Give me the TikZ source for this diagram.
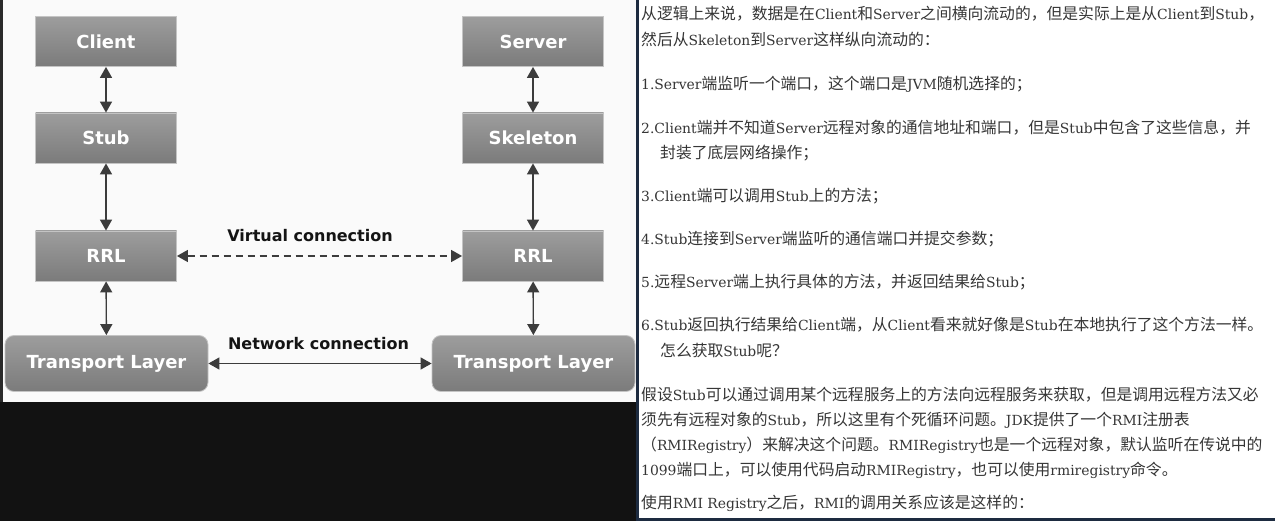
\documentclass[tikz,border=0pt]{standalone}
\usepackage{fontspec}
\usepackage{tikz}
\usetikzlibrary{arrows.meta}
\setmainfont{DejaVu Sans}
\newfontfamily\cjkfont{Noto Sans CJK SC}
\newfontfamily\latinfont[Scale=0.88]{DejaVu Serif}
\newcommand{\eng}[1]{{\latinfont #1}}
\definecolor{pagedark}{HTML}{121212}
\definecolor{edgedark}{HTML}{2A2A2A}
\definecolor{navy}{HTML}{1D2B40}
\definecolor{panelbg}{HTML}{FAFAFA}
\definecolor{boxtop}{HTML}{9D9D9D}
\definecolor{boxbot}{HTML}{7B7B7B}
\definecolor{boxedge}{HTML}{C4C4C4}
\definecolor{arrowgray}{HTML}{3C3C3C}
\definecolor{labelblack}{HTML}{141414}
\definecolor{textgray}{HTML}{363636}

\begin{document}
\begin{tikzpicture}[x=1pt, y=-1pt,
    layer/.style={draw=boxedge, line width=0.8pt, top color=boxtop, bottom color=boxbot,
      text=white, font=\fontsize{18}{18}\selectfont\bfseries,
      minimum width=141pt, minimum height=50pt, inner sep=0pt},
    transport/.style={layer, rounded corners=9pt, minimum width=203pt, minimum height=56pt},
    link/.style={draw=arrowgray, line width=1.4pt, <->, >={Triangle[length=11pt,width=12pt]}},
    conn/.style={font=\fontsize{16}{16}\selectfont\bfseries, text=labelblack, inner sep=0pt},
    para/.style={anchor=base west, inner sep=0pt, text=textgray,
      font=\cjkfont\fontsize{15.8}{15.8}\selectfont}]
    \useasboundingbox (0,0) rectangle (1275,521);

    % Background
    \fill[pagedark] (0,0) rectangle (1275,521);
    \fill[edgedark] (0,0) rectangle (3,402);
    \fill[panelbg] (3,0) rectangle (636,402);
    \fill[navy] (636,0) rectangle (1275,521);
    \fill[white] (639,0) rectangle (1275,518);

    % Client side
    \node[layer] (client) at (106,41.5) {Client};
    \node[layer] (stub) at (106,138) {Stub};
    \node[layer] (rrlL) at (106,256) {RRL};
    \node[transport] (tlL) at (106.5,363.5) {Transport Layer};

    % Server side
    \node[layer] (server) at (533,41.5) {Server};
    \node[layer] (skeleton) at (533,138) {Skeleton};
    \node[layer] (rrlR) at (533,256) {RRL};
    \node[transport] (tlR) at (533.5,363.5) {Transport Layer};

    % Vertical links
    \draw[link] (client) -- (stub);
    \draw[link] (stub) -- (rrlL);
    \draw[link] (rrlL) -- (tlL);
    \draw[link] (server) -- (skeleton);
    \draw[link] (skeleton) -- (rrlR);
    \draw[link] (rrlR) -- (tlR);

    % Connections
    \draw[link, dash pattern=on 7pt off 5pt, line width=1.3pt] (rrlL) -- (rrlR);
    \draw[link] (tlL) -- (tlR);
    \node[conn] (virtual) at (310,236) {Virtual connection};
    \node[conn] (network) at (318.5,344) {Network connection};

    % Notes on the right
    \node[para] (t1) at (641,20) {从逻辑上来说，数据是在\eng{Client}和\eng{Server}之间横向流动的，但是实际上是从\eng{Client}到\eng{Stub}，};
    \node[para] (t2) at (641,46) {然后从\eng{Skeleton}到\eng{Server}这样纵向流动的：};
    \node[para] (t3) at (641,90) {\eng{1.Server}端监听一个端口，这个端口是\eng{JVM}随机选择的；};
    \node[para] (t4) at (641,134) {\eng{2.Client}端并不知道\eng{Server}远程对象的通信地址和端口，但是\eng{Stub}中包含了这些信息，并};
    \node[para] (t5) at (660,159) {封装了底层网络操作；};
    \node[para] (t6) at (641,202) {\eng{3.Client}端可以调用\eng{Stub}上的方法；};
    \node[para] (t7) at (641,245) {\eng{4.Stub}连接到\eng{Server}端监听的通信端口并提交参数；};
    \node[para] (t8) at (641,288) {\eng{5.}远程\eng{Server}端上执行具体的方法，并返回结果给\eng{Stub}；};
    \node[para] (t9) at (641,331) {\eng{6.Stub}返回执行结果给\eng{Client}端，从\eng{Client}看来就好像是\eng{Stub}在本地执行了这个方法一样。};
    \node[para] (t10) at (660,356) {怎么获取\eng{Stub}呢？};
    \node[para] (t11) at (641,400) {假设\eng{Stub}可以通过调用某个远程服务上的方法向远程服务来获取，但是调用远程方法又必};
    \node[para] (t12) at (641,425) {须先有远程对象的\eng{Stub}，所以这里有个死循环问题。\eng{JDK}提供了一个\eng{RMI}注册表};
    \node[para] (t13) at (641,450) {（\eng{RMIRegistry}）来解决这个问题。\eng{RMIRegistry}也是一个远程对象，默认监听在传说中的};
    \node[para] (t14) at (641,475) {\eng{1099}端口上，可以使用代码启动\eng{RMIRegistry}，也可以使用\eng{rmiregistry}命令。};
    \node[para] (t15) at (641,508) {使用\eng{RMI Registry}之后，\eng{RMI}的调用关系应该是这样的：};
\end{tikzpicture}
\end{document}
